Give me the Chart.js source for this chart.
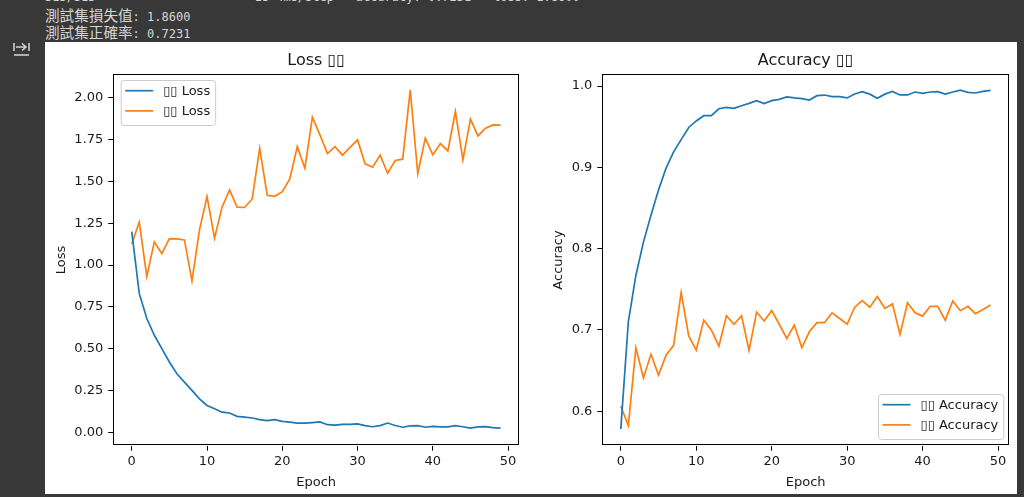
<!DOCTYPE html>
<html><head><meta charset="utf-8">
<script src="https://cdn.jsdelivr.net/npm/chart.js@4.4.1/dist/chart.umd.min.js"></script>
<style>
html,body{margin:0;padding:0;background:#383838;width:1024px;height:497px;overflow:hidden;}
#out{position:absolute;left:45px;top:-11px;color:#d5d5d5;font-family:"DejaVu Sans Mono",monospace;font-size:12px;white-space:pre;}
#out div{height:17px;line-height:17px;overflow:visible;}
.cjk{font-family:"Noto Sans CJK TC";font-size:14.6px;line-height:17px;}
#fig{position:absolute;left:45px;top:42px;width:972px;height:452px;background:#fff;}
canvas{position:absolute;top:0;}
#icon{position:absolute;left:10px;top:40px;}
</style></head>
<body>
<div id="out"><div>313/313 ━━━━━━━━━━━━━━━━━━━━ 1s 4ms/step - accuracy: 0.7231 - loss: 1.8600</div><div><span class="cjk">測試集損失值</span>: 1.8600</div><div><span class="cjk">測試集正確率</span>: 0.7231</div></div>
<svg id="icon" width="24" height="20" viewBox="0 0 24 20"><g stroke="#cfcfcf" stroke-width="1.6" fill="none"><path d="M4 3 L4 11"/><path d="M6 7 L16 7 M12 3.5 L16 7 L12 10.5"/><path d="M19 3 L19 11"/><path d="M4 15 L19 15"/></g></svg>
<div id="fig">
<canvas id="c1" width="487" height="452" style="left:0"></canvas>
<canvas id="c2" width="485" height="452" style="left:487px"></canvas>
</div>
<script>
const epochs = [0,1,2,3,4,5,6,7,8,9,10,11,12,13,14,15,16,17,18,19,20,21,22,23,24,25,26,27,28,29,30,31,32,33,34,35,36,37,38,39,40,41,42,43,44,45,46,47,48,49];
const trainLoss = [1.20,0.83,0.68,0.58,0.50,0.42,0.35,0.30,0.25,0.20,0.16,0.14,0.12,0.115,0.095,0.09,0.085,0.075,0.07,0.075,0.065,0.06,0.055,0.055,0.058,0.062,0.045,0.042,0.047,0.047,0.05,0.04,0.033,0.04,0.055,0.04,0.03,0.038,0.04,0.03,0.035,0.032,0.032,0.04,0.033,0.025,0.032,0.033,0.028,0.025];
const valLoss = [1.126,1.256,0.931,1.138,1.068,1.158,1.156,1.150,0.905,1.21,1.409,1.16,1.346,1.449,1.346,1.344,1.395,1.698,1.417,1.411,1.439,1.515,1.708,1.579,1.884,1.778,1.666,1.708,1.657,1.703,1.748,1.605,1.585,1.657,1.549,1.625,1.633,2.047,1.547,1.758,1.659,1.726,1.682,1.918,1.629,1.872,1.772,1.818,1.838,1.836];
const trainAcc = [0.578,0.710,0.767,0.808,0.841,0.872,0.899,0.919,0.934,0.949,0.957,0.9635,0.9635,0.972,0.9738,0.9725,0.9758,0.9787,0.982,0.9783,0.982,0.9836,0.9865,0.9853,0.9845,0.9828,0.9881,0.9889,0.9869,0.9869,0.9853,0.9902,0.993,0.990,0.985,0.990,0.9934,0.989,0.989,0.9926,0.991,0.9926,0.993,0.990,0.9926,0.995,0.9922,0.9914,0.9934,0.9946];
const valAcc = [0.6064,0.5822,0.678,0.641,0.670,0.6445,0.669,0.681,0.746,0.6925,0.675,0.712,0.700,0.680,0.7175,0.707,0.7175,0.675,0.722,0.711,0.7237,0.707,0.6896,0.706,0.678,0.698,0.709,0.709,0.721,0.714,0.707,0.728,0.736,0.728,0.741,0.7265,0.732,0.6945,0.7335,0.721,0.717,0.729,0.729,0.712,0.7355,0.7237,0.729,0.720,0.725,0.7306];
const epochTicks = [0,10,20,30,40,50];
const lossTicks = [0,0.25,0.5,0.75,1.0,1.25,1.5,1.75,2.0];
const accTicks = [0.6,0.7,0.8,0.9,1.0];
const lossTitle = 'Loss \u25AF\u25AF';
const accTitle = 'Accuracy \u25AF\u25AF';
const lossLabels = ['\u25AF\u25AF Loss','\u25AF\u25AF Loss'];
const accLabels = ['\u25AF\u25AF Accuracy','\u25AF\u25AF Accuracy'];

const BLUE='#1f77b4', ORANGE='#ff7f0e', TXT='#1a1a1a', FONT='DejaVu Sans', FS=13;

const decor = {
  id:'decor',
  afterDraw(chart, args, o){
    const {ctx, chartArea:a} = chart;
    ctx.save();
    ctx.strokeStyle='#000'; ctx.lineWidth=1;
    ctx.strokeRect(Math.round(a.left)+0.5, Math.round(a.top)+0.5, Math.round(a.right-a.left)-1, Math.round(a.bottom-a.top)-1);
    ctx.fillStyle=TXT; ctx.font='16px "'+FONT+'"'; ctx.textAlign='center'; ctx.textBaseline='middle';
    ctx.fillText(o.title, (a.left+a.right)/2, a.top-13);
    ctx.font=FS+'px "'+FONT+'"';
    const ds = chart.data.datasets;
    const tw = Math.max(...ds.map(d=>ctx.measureText(d.label).width));
    const w = 4.5+28+10+tw+5, h = 45;
    const x = o.legend==='ul' ? a.left+7.4 : a.right-5.7-w;
    const y = o.legend==='ul' ? a.top+5.7 : a.bottom-6.7-h;
    ctx.beginPath();
    if (ctx.roundRect) ctx.roundRect(x+0.5,y+0.5,w,h,3); else ctx.rect(x+0.5,y+0.5,w,h);
    ctx.fillStyle='rgba(255,255,255,0.8)'; ctx.fill();
    ctx.strokeStyle='#cccccc'; ctx.lineWidth=1; ctx.stroke();
    ds.forEach((d,i)=>{
      const ly = y+10.7+i*20.2;
      ctx.beginPath(); ctx.strokeStyle=d.borderColor; ctx.lineWidth=1.7;
      ctx.moveTo(x+4.5, ly); ctx.lineTo(x+32.5, ly); ctx.stroke();
      ctx.fillStyle=TXT; ctx.textAlign='left'; ctx.textBaseline='middle';
      ctx.fillText(d.label, x+42.5, ly+1);
    });
    ctx.restore();
  }
};

function makeChart(id, s1, s2, names, ymin, ymax, yTicks, dec, yTitle, yw, ytp, padRight, title, legendPos){
  return new Chart(document.getElementById(id), {
    type:'line',
    data:{labels:epochs, datasets:[
      {label:names[0], data:s1, borderColor:BLUE, backgroundColor:BLUE, borderWidth:1.7, pointRadius:0, tension:0, fill:false},
      {label:names[1], data:s2, borderColor:ORANGE, backgroundColor:ORANGE, borderWidth:1.7, pointRadius:0, tension:0, fill:false}
    ]},
    options:{
      responsive:false, animation:false, devicePixelRatio:1,
      layout:{padding:{left:0, top:32.3, right:padRight, bottom:0}},
      plugins:{legend:{display:false}, tooltip:{enabled:false}, decor:{title:title, legend:legendPos}},
      scales:{
        x:{type:'linear', min:-2.45, max:51.45,
          afterBuildTicks:s=>{s.ticks=epochTicks.map(v=>({value:v}));},
          afterFit:s=>{s.height=48.3;},
          grid:{drawOnChartArea:false, drawTicks:true, tickLength:5, color:'#000', lineWidth:1},
          border:{display:false},
          ticks:{padding:3, color:TXT, font:{family:FONT, size:FS}, maxRotation:0, autoSkip:false, callback:v=>String(v)},
          title:{display:true, text:'Epoch', color:TXT, font:{family:FONT, size:FS}, padding:{top:0,bottom:4}}
        },
        y:{type:'linear', min:ymin, max:ymax,
          afterBuildTicks:s=>{s.ticks=yTicks.map(v=>({value:v}));},
          afterFit:s=>{s.width=yw;},
          grid:{drawOnChartArea:false, drawTicks:true, tickLength:5, color:'#000', lineWidth:1},
          border:{display:false},
          ticks:{padding:5, color:TXT, font:{family:FONT, size:FS}, autoSkip:false, callback:v=>Number(v).toFixed(dec)},
          title:{display:true, text:yTitle, color:TXT, font:{family:FONT, size:FS}, padding:{top:ytp,bottom:0}}
        }
      }
    },
    plugins:[decor]
  });
}
makeChart('c1', trainLoss, valLoss, lossLabels, -0.0805, 2.1405, lossTicks, 2, 'Loss', 68.3, 8.9, 13, lossTitle, 'ul');
makeChart('c2', trainAcc, valAcc, accLabels, 0.5576, 1.0144, accTicks, 1, 'Accuracy', 70.3, 18.5, 8, accTitle, 'lr');
</script>
</body></html>
